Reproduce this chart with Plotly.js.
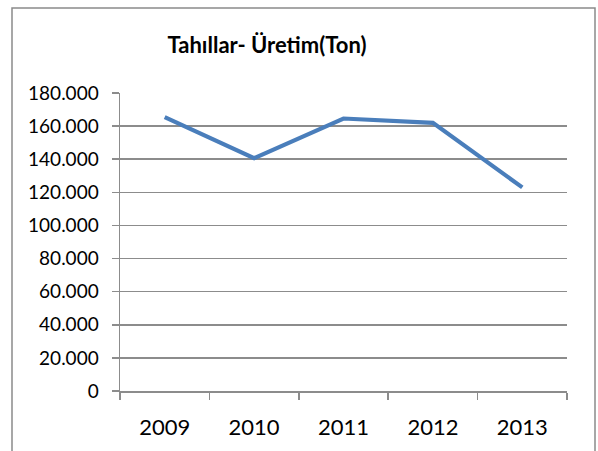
<!DOCTYPE html>
<html>
<head>
<meta charset="utf-8">
<script src="https://cdn.plot.ly/plotly-3.0.1.min.js"></script>
<style>
html,body{margin:0;padding:0;background:#fff;}
#chart{width:598px;height:451px;}
</style>
</head>
<body>
<div id="chart"></div>
<script>
const years = ['2009', '2010', '2011', '2012', '2013'];
const production = [165400, 140600, 164600, 162000, 123000];
const yTicks = [0, 20000, 40000, 60000, 80000, 100000, 120000, 140000, 160000, 180000];

const trace = {
  type: 'scatter',
  mode: 'lines',
  x: years,
  y: production,
  line: {color: '#4A7EBB', width: 4.2},
  hoverinfo: 'skip'
};

const grey = '#8c8c8c';

const layout = {
  width: 598,
  height: 451,
  margin: {l: 120, r: 31, t: 93, b: 60, pad: 0},
  paper_bgcolor: '#fff',
  plot_bgcolor: '#fff',
  separators: ',.',
  showlegend: false,
  font: {family: 'Lato, "Open Sans", sans-serif', color: '#000'},
  title: {
    text: '<b>Tahıllar- Üretim(Ton)</b>',
    font: {family: 'Lato, "Open Sans", sans-serif', size: 22, color: '#000'},
    xref: 'container', x: 267 / 598, xanchor: 'center',
    yref: 'container', y: 1 - 45 / 451, yanchor: 'middle'
  },
  xaxis: {
    type: 'category',
    range: [-0.5, years.length - 0.5],
    tickson: 'boundaries',
    ticks: 'outside',
    ticklen: 7,
    tickwidth: 1.5,
    tickcolor: grey,
    showline: true,
    linecolor: grey,
    linewidth: 1.5,
    showgrid: false,
    zeroline: false,
    tickfont: {size: 22, color: '#000'},
    ticklabelstandoff: 16,
    fixedrange: true
  },
  yaxis: {
    range: [0, 180000],
    tickvals: yTicks,
    tickformat: ',d',
    ticks: 'outside',
    ticklen: 7,
    tickwidth: 1.5,
    tickcolor: grey,
    showline: true,
    linecolor: grey,
    linewidth: 1.5,
    showgrid: true,
    gridcolor: grey,
    gridwidth: 1.5,
    zeroline: false,
    tickfont: {size: 19, color: '#000'},
    ticklabelstandoff: 9,
    fixedrange: true
  },
  shapes: [{
    type: 'rect',
    xref: 'paper', yref: 'paper',
    x0: (12 - 120) / 447, x1: (595 - 120) / 447,
    y0: (391 - 460) / 298, y1: (391 - 8) / 298,
    line: {color: '#8a8a8a', width: 1.5},
    fillcolor: 'rgba(0,0,0,0)',
    layer: 'below'
  }]
};

Plotly.newPlot('chart', [trace], layout, {displayModeBar: false, staticPlot: true});
</script>
</body>
</html>
